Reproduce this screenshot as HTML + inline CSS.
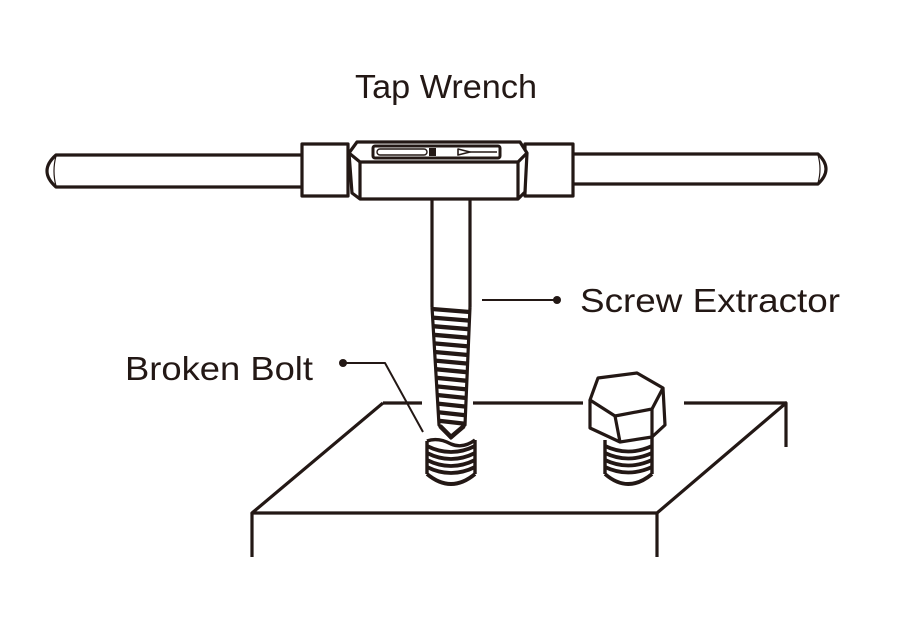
<!DOCTYPE html>
<html><head><meta charset="utf-8"><style>
html,body{margin:0;padding:0;background:#fff;}
svg{display:block;}
text{font-family:"Liberation Sans",Arial,sans-serif;fill:#231815;}
</style></head><body>
<svg width="900" height="630" viewBox="0 0 900 630" xmlns="http://www.w3.org/2000/svg">
<rect width="900" height="630" fill="#fff"/>
<g fill="none" stroke="#231815" stroke-width="3.2" stroke-linejoin="round" stroke-linecap="butt">
  <!-- left handle -->
  <path d="M302,155 L56,155 Q38,171 56,187 L302,187" fill="#fff"/>
  <path d="M56,156 Q52,171 56,186" stroke-width="1.2"/>
  <!-- right handle -->
  <path d="M573,154 L818,154 Q834,169 818,184 L573,184" fill="#fff"/>
  <path d="M818,155 Q822,169 818,183" stroke-width="1.2"/>
  <!-- collars -->
  <rect x="302" y="144" width="46" height="52" fill="#fff"/>
  <rect x="525" y="144" width="48" height="52" fill="#fff"/>
  <!-- center block -->
  <path d="M357,142 L520,142 L527,153 L525,192 L518,199 L360,199 L352,193 L349,153 Z" fill="#fff"/>
  <path d="M349,153 L360,162 L518,162 L527,153"/>
  <path d="M360,162 L360,199 M518,162 L518,199"/>
  <!-- slot -->
  <rect x="373" y="146" width="127" height="12" rx="2" stroke-width="3" fill="#fff"/>
  <rect x="377" y="149" width="50" height="6" rx="3" stroke-width="1.4"/>
  <rect x="429" y="148" width="7" height="8" fill="#231815" stroke="none"/>
  <path d="M458,149 L470,152 L458,155 Z" fill="#fff" stroke-width="1.6"/>
  <path d="M470,152 L497,152" stroke-width="1.4"/>
  <!-- stem -->
  <path d="M432,199 L432,307 M470,199 L470,307"/>
  <!-- taper -->
  <path d="M432,307 L439,425 L451,438 L465,425 L470,307" stroke-width="3.2"/>
  <g stroke-width="4.3">
    <path d="M432.1,309 L469.8,312"/>
    <path d="M432.6,317.6 L469.4,320.6"/>
    <path d="M433.1,326.2 L469.1,329.2"/>
    <path d="M433.6,334.8 L468.7,337.8"/>
    <path d="M434.2,343.4 L468.3,346.4"/>
    <path d="M434.7,352 L468,355"/>
    <path d="M435.2,360.6 L467.6,363.6"/>
    <path d="M435.7,369.2 L467.2,372.2"/>
    <path d="M436.2,377.8 L466.9,380.8"/>
    <path d="M436.7,386.4 L466.5,389.4"/>
    <path d="M437.2,395 L466.1,398"/>
    <path d="M437.7,403.6 L465.8,406.6"/>
    <path d="M438.2,412.2 L465.4,415.2"/>
    <path d="M438.7,420.8 L465,423.8"/>
  </g>
  <path d="M440,426 L451,437 L464,426" stroke-width="4.5"/>
  <!-- plate -->
  <path d="M383,403 L422,403 M473,403 L583,403 M684,403 L786,403"/>
  <path d="M383,403 L252,513 L657,513 L786,403 L786,447"/>
  <path d="M252,513 L252,557 M657,513 L657,557"/>
  <!-- broken bolt -->
  <path d="M427,441 L427,474 M475,440 L475,474" stroke-width="3.4"/>
  <path d="M427,441 Q438,437 451,444 Q463,449 475,440" stroke-width="3.4"/>
  <g stroke-width="3.8">
    <path d="M427,446 Q451,458 475,446"/>
    <path d="M427,453 Q451,465 475,453"/>
    <path d="M427,460 Q451,472 475,460"/>
    <path d="M427,467 Q451,479 475,467"/>
    <path d="M427,474 Q451,494 475,474"/>
  </g>
  <!-- hex bolt -->
  <path d="M598,378 L637,373 L663,388 L652,409 L615,416 L590,400 Z" fill="#fff"/>
  <path d="M590,400 L590,428 L620,442 L652,437 L665,425 L663,388"/>
  <path d="M615,416 L620,442 M652,409 L652,437"/>
  <path d="M605,440 L605,474 M652,437 L652,474" stroke-width="3.4"/>
  <g stroke-width="3.8">
    <path d="M605,446 Q628,457 652,446"/>
    <path d="M605,453 Q628,464 652,453"/>
    <path d="M605,460 Q628,471 652,460"/>
    <path d="M605,467 Q628,478 652,467"/>
    <path d="M605,474 Q628,494 652,474"/>
  </g>
  <!-- leaders -->
  <path d="M482,300 L557,300" stroke-width="2"/>
  <path d="M343,363 L385,363 L423,432" stroke-width="2"/>
</g>
<circle cx="557" cy="300" r="4" fill="#231815"/>
<circle cx="343" cy="363" r="4" fill="#231815"/>
<text x="355" y="98" font-size="33.5" textLength="182" lengthAdjust="spacingAndGlyphs">Tap Wrench</text>
<text x="580" y="312" font-size="33.5" textLength="260" lengthAdjust="spacingAndGlyphs">Screw Extractor</text>
<text x="125" y="380" font-size="33.5" textLength="188" lengthAdjust="spacingAndGlyphs">Broken Bolt</text>
</svg>
</body></html>
